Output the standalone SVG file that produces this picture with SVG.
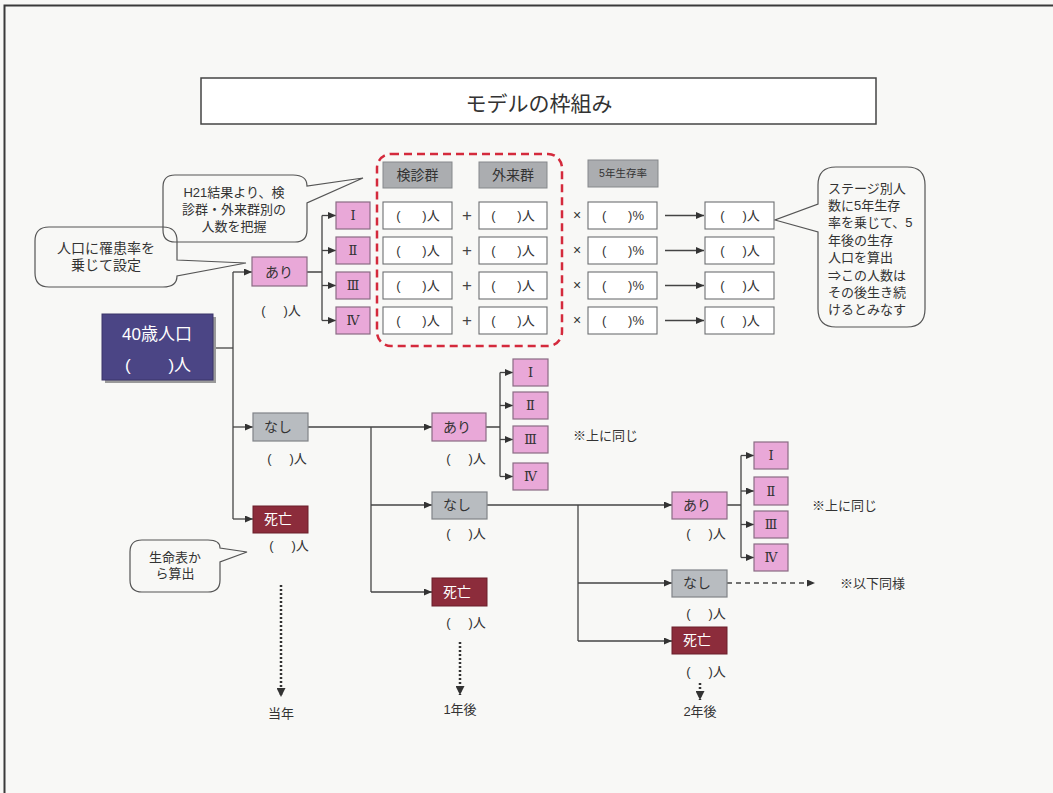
<svg xmlns="http://www.w3.org/2000/svg" width="1053" height="793" viewBox="0 0 1053 793">
<style>
text{font-family:"Liberation Sans","Noto Sans CJK JP",sans-serif;fill:#333;}
.t13{font-size:13px;}
.t14{font-size:14px;}
.c{text-anchor:middle;}
.num{font-family:"DejaVu Serif","Liberation Serif","Noto Sans CJK JP",serif;font-size:13px;text-anchor:middle;fill:#333;}
.pink{fill:#e9a8d8;stroke:#8a6c84;stroke-width:1.2;}
.gray{fill:#b8bcc0;stroke:#808488;stroke-width:1.2;}
.dead{fill:#8c2c3b;stroke:#6a1f2b;stroke-width:1;}
.hdr{fill:#abadb0;stroke:#85888b;stroke-width:1;}
.cell{fill:#ffffff;stroke:#6d6f72;stroke-width:1.1;}
.ln{fill:none;stroke:#444;stroke-width:1.3;}
.bub{fill:none;stroke:#555;stroke-width:1.2;}
.wt{fill:#ffffff;}
.op{font-size:17px;text-anchor:middle;fill:#444;}
</style>
<defs>
<marker id="ah" markerWidth="8" markerHeight="7" refX="8" refY="3.5" orient="auto" markerUnits="userSpaceOnUse"><path d="M0,0 L8,3.5 L0,7 Z" fill="#333"/></marker>
<marker id="ahb" markerWidth="10" markerHeight="9" refX="9" refY="4.5" orient="auto" markerUnits="userSpaceOnUse"><path d="M0,0 L9,4.5 L0,9 Z" fill="#333"/></marker>
</defs>
<rect x="0" y="0" width="1053" height="793" fill="#f8f8f6"/>
<rect x="4.5" y="5.5" width="1070" height="800" fill="none" stroke="#3a3a3a" stroke-width="2"/>
<g id="title">
<rect x="201" y="78" width="675" height="46" fill="#ffffff" stroke="#444" stroke-width="1.5"/>
<text x="539" y="111" class="c" style="font-size:21px">モデルの枠組み</text>
</g>
<g id="connectors">
<path class="ln" d="M213,348 H233"/>
<path class="ln" d="M233,272 V519"/>
<path class="ln" d="M233,272 H252" marker-end="url(#ah)"/>
<path class="ln" d="M233,427 H253" marker-end="url(#ah)"/>
<path class="ln" d="M233,519 H253" marker-end="url(#ah)"/>
<path class="ln" d="M307,272 H322 M322,215.5 V320.5"/>
<path class="ln" d="M322,215.5 H336" marker-end="url(#ah)"/>
<path class="ln" d="M322,250.5 H336" marker-end="url(#ah)"/>
<path class="ln" d="M322,285.5 H336" marker-end="url(#ah)"/>
<path class="ln" d="M322,320.5 H336" marker-end="url(#ah)"/>
<path class="ln" d="M665,215.5 H704" marker-end="url(#ah)"/>
<path class="ln" d="M665,250.5 H704" marker-end="url(#ah)"/>
<path class="ln" d="M665,285.5 H704" marker-end="url(#ah)"/>
<path class="ln" d="M665,320.5 H704" marker-end="url(#ah)"/>
<path class="ln" d="M308,427 H432" marker-end="url(#ah)"/>
<path class="ln" d="M371,427 V592"/>
<path class="ln" d="M371,505 H432" marker-end="url(#ah)"/>
<path class="ln" d="M371,592 H432" marker-end="url(#ah)"/>
<path class="ln" d="M486,427 H500 M500,372.5 V476.5"/>
<path class="ln" d="M500,372.5 H513" marker-end="url(#ah)"/>
<path class="ln" d="M500,405.5 H513" marker-end="url(#ah)"/>
<path class="ln" d="M500,439.5 H513" marker-end="url(#ah)"/>
<path class="ln" d="M500,476.5 H513" marker-end="url(#ah)"/>
<path class="ln" d="M487,505 H672" marker-end="url(#ah)"/>
<path class="ln" d="M578,505 V641"/>
<path class="ln" d="M578,583 H672" marker-end="url(#ah)"/>
<path class="ln" d="M578,641 H672" marker-end="url(#ah)"/>
<path class="ln" d="M727,505 H741 M741,455.5 V557.5"/>
<path class="ln" d="M741,455.5 H754" marker-end="url(#ah)"/>
<path class="ln" d="M741,491 H754" marker-end="url(#ah)"/>
<path class="ln" d="M741,524.5 H754" marker-end="url(#ah)"/>
<path class="ln" d="M741,557.5 H754" marker-end="url(#ah)"/>
<path class="ln" d="M727,583 H815" stroke-dasharray="5,4" marker-end="url(#ah)"/>
<path d="M281,585 V697" fill="none" stroke="#333" stroke-width="2.5" stroke-dasharray="2,2" marker-end="url(#ahb)"/>
<path d="M460,642 V695" fill="none" stroke="#333" stroke-width="2.5" stroke-dasharray="2,2" marker-end="url(#ahb)"/>
<path d="M700,683 V700" fill="none" stroke="#333" stroke-width="2.5" stroke-dasharray="2,2" marker-end="url(#ahb)"/>
</g>
<g id="callout-h21">
<path class="bub" d="M175,175 H293 Q307,175 307,186 L363,178 L307,203 V230 Q307,242 295,242 H175 Q163,242 163,230 V187 Q163,175 175,175 Z"/>
<text class="t13 c" x="234" y="197">H21結果より、検</text>
<text class="t13 c" x="234" y="214">診群・外来群別の</text>
<text class="t13 c" x="234" y="231">人数を把握</text>
</g>
<g id="callout-rate">
<path class="bub" d="M49,227 H163 Q177,227 177,241 V260 L246,263 L177,276 Q177,287 163,287 H49 Q35,287 35,273 V241 Q35,227 49,227 Z"/>
<text class="t14 c" x="106" y="253">人口に罹患率を</text>
<text class="t14 c" x="106" y="270">乗じて設定</text>
</g>
<g id="callout-survival">
<path class="bub" d="M836,167 H907 Q925,167 925,185 V309 Q925,327 907,327 H836 Q818,327 818,309 V232 L775,220 L818,204 V185 Q818,167 836,167 Z"/>
<text class="t13" x="828" y="193">ステージ別人</text>
<text class="t13" x="828" y="210">数に5年生存</text>
<text class="t13" x="828" y="227">率を乗じて、5</text>
<text class="t13" x="828" y="245">年後の生存</text>
<text class="t13" x="828" y="262">人口を算出</text>
<text class="t13" x="828" y="280">⇒この人数は</text>
<text class="t13" x="828" y="297">その後生き続</text>
<text class="t13" x="828" y="314">けるとみなす</text>
</g>
<g id="callout-lifetable">
<path class="bub" d="M142,540 H208 Q220,540 220,548 L247,552 L220,562 V580 Q220,592 208,592 H142 Q130,592 130,580 V552 Q130,540 142,540 Z"/>
<text class="t13 c" x="175" y="562">生命表か</text>
<text class="t13 c" x="175" y="578">ら算出</text>
</g>
<g id="pop40">
<rect x="105" y="317" width="111" height="66" fill="#9a9a9a"/>
<rect x="102" y="314" width="111" height="66" fill="#4b4585" stroke="#3a3568" stroke-width="1"/>
<text class="wt c" x="157" y="340" style="font-size:17px">40歳人口</text>
<text class="wt c" x="158" y="371" style="font-size:17px">(&#160;&#160;&#160;&#160;&#160;&#160;&#160;&#160;)人</text>
</g>
<g id="ari1">
<rect class="pink" x="252" y="257" width="55" height="29"/>
<text class="t14" x="265" y="277">あり</text>
<text class="t13 c" x="281" y="315">(&#160;&#160;&#160;&#160;&#160;)人</text>
</g>
<g id="stages1">
<rect class="pink" x="336" y="202" width="34" height="27"/><text class="num" x="353" y="220">Ⅰ</text>
<rect class="pink" x="336" y="237" width="34" height="27"/><text class="num" x="353" y="255">Ⅱ</text>
<rect class="pink" x="336" y="272" width="34" height="27"/><text class="num" x="353" y="290">Ⅲ</text>
<rect class="pink" x="336" y="307" width="34" height="27"/><text class="num" x="353" y="325">Ⅳ</text>
</g>
<g id="table">
<rect x="377" y="154" width="185" height="192" rx="14" fill="none" stroke="#d42a3c" stroke-width="2.5" stroke-dasharray="8,5"/>
<rect class="hdr" x="383" y="162" width="69" height="26"/><text class="t14 c" x="417.5" y="180">検診群</text>
<rect class="hdr" x="479" y="162" width="68" height="26"/><text class="t14 c" x="513" y="180">外来群</text>
<rect class="hdr" x="588" y="160" width="70" height="27"/><text class="c" x="623" y="177" style="font-size:10.5px">5年生存率</text>
<g id="row1">
<rect class="cell" x="383" y="202" width="69" height="27"/><text class="t13 c" x="418" y="220">(&#160;&#160;&#160;&#160;&#160;&#160;)人</text>
<text class="op" x="467" y="221">+</text>
<rect class="cell" x="479" y="202" width="68" height="27"/><text class="t13 c" x="513" y="220">(&#160;&#160;&#160;&#160;&#160;&#160;)人</text>
<text class="t14 c" x="577" y="220">×</text>
<rect class="cell" x="588" y="202" width="69" height="27"/><text class="t13 c" x="623" y="220">(&#160;&#160;&#160;&#160;&#160;&#160;)%</text>
<rect class="cell" x="705" y="202" width="69" height="27"/><text class="t13 c" x="740" y="220">(&#160;&#160;&#160;&#160;&#160;)人</text>
</g>
<g id="row2">
<rect class="cell" x="383" y="237" width="69" height="27"/><text class="t13 c" x="418" y="255">(&#160;&#160;&#160;&#160;&#160;&#160;)人</text>
<text class="op" x="467" y="256">+</text>
<rect class="cell" x="479" y="237" width="68" height="27"/><text class="t13 c" x="513" y="255">(&#160;&#160;&#160;&#160;&#160;&#160;)人</text>
<text class="t14 c" x="577" y="255">×</text>
<rect class="cell" x="588" y="237" width="69" height="27"/><text class="t13 c" x="623" y="255">(&#160;&#160;&#160;&#160;&#160;&#160;)%</text>
<rect class="cell" x="705" y="237" width="69" height="27"/><text class="t13 c" x="740" y="255">(&#160;&#160;&#160;&#160;&#160;)人</text>
</g>
<g id="row3">
<rect class="cell" x="383" y="272" width="69" height="27"/><text class="t13 c" x="418" y="290">(&#160;&#160;&#160;&#160;&#160;&#160;)人</text>
<text class="op" x="467" y="291">+</text>
<rect class="cell" x="479" y="272" width="68" height="27"/><text class="t13 c" x="513" y="290">(&#160;&#160;&#160;&#160;&#160;&#160;)人</text>
<text class="t14 c" x="577" y="290">×</text>
<rect class="cell" x="588" y="272" width="69" height="27"/><text class="t13 c" x="623" y="290">(&#160;&#160;&#160;&#160;&#160;&#160;)%</text>
<rect class="cell" x="705" y="272" width="69" height="27"/><text class="t13 c" x="740" y="290">(&#160;&#160;&#160;&#160;&#160;)人</text>
</g>
<g id="row4">
<rect class="cell" x="383" y="307" width="69" height="27"/><text class="t13 c" x="418" y="325">(&#160;&#160;&#160;&#160;&#160;&#160;)人</text>
<text class="op" x="467" y="326">+</text>
<rect class="cell" x="479" y="307" width="68" height="27"/><text class="t13 c" x="513" y="325">(&#160;&#160;&#160;&#160;&#160;&#160;)人</text>
<text class="t14 c" x="577" y="325">×</text>
<rect class="cell" x="588" y="307" width="69" height="27"/><text class="t13 c" x="623" y="325">(&#160;&#160;&#160;&#160;&#160;&#160;)%</text>
<rect class="cell" x="705" y="307" width="69" height="27"/><text class="t13 c" x="740" y="325">(&#160;&#160;&#160;&#160;&#160;)人</text>
</g>
</g>
<g id="nashi1">
<rect class="gray" x="253" y="413" width="55" height="28"/>
<text class="t14" x="264" y="432">なし</text>
<text class="t13 c" x="287" y="463">(&#160;&#160;&#160;&#160;&#160;)人</text>
</g>
<g id="shibou1">
<rect class="dead" x="253" y="506" width="55" height="27"/>
<text class="t14 wt" x="264" y="524">死亡</text>
<text class="t13 c" x="289" y="550">(&#160;&#160;&#160;&#160;&#160;)人</text>
</g>
<g id="ari2">
<rect class="pink" x="432" y="413" width="54" height="28"/>
<text class="t14" x="443" y="432">あり</text>
<text class="t13 c" x="466" y="463">(&#160;&#160;&#160;&#160;&#160;)人</text>
</g>
<g id="stages2">
<rect class="pink" x="513" y="359" width="35" height="27"/><text class="num" x="530.5" y="377">Ⅰ</text>
<rect class="pink" x="513" y="392" width="35" height="27"/><text class="num" x="530.5" y="410">Ⅱ</text>
<rect class="pink" x="513" y="426" width="35" height="27"/><text class="num" x="530.5" y="444">Ⅲ</text>
<rect class="pink" x="513" y="463" width="35" height="27"/><text class="num" x="530.5" y="481">Ⅳ</text>
<text class="t13" x="573" y="440">※上に同じ</text>
</g>
<g id="nashi2">
<rect class="gray" x="432" y="492" width="55" height="27"/>
<text class="t14" x="443" y="510">なし</text>
<text class="t13 c" x="466" y="538">(&#160;&#160;&#160;&#160;&#160;)人</text>
</g>
<g id="shibou2">
<rect class="dead" x="432" y="578" width="55" height="28"/>
<text class="t14 wt" x="443" y="597">死亡</text>
<text class="t13 c" x="466" y="627">(&#160;&#160;&#160;&#160;&#160;)人</text>
</g>
<g id="ari3">
<rect class="pink" x="672" y="492" width="55" height="27"/>
<text class="t14" x="683" y="510">あり</text>
<text class="t13 c" x="706" y="538">(&#160;&#160;&#160;&#160;&#160;)人</text>
</g>
<g id="stages3">
<rect class="pink" x="754" y="442" width="34" height="27"/><text class="num" x="771" y="460">Ⅰ</text>
<rect class="pink" x="754" y="477" width="34" height="28"/><text class="num" x="771" y="496">Ⅱ</text>
<rect class="pink" x="754" y="511" width="34" height="27"/><text class="num" x="771" y="529">Ⅲ</text>
<rect class="pink" x="754" y="544" width="34" height="27"/><text class="num" x="771" y="562">Ⅳ</text>
<text class="t13" x="812" y="510">※上に同じ</text>
</g>
<g id="nashi3">
<rect class="gray" x="672" y="570" width="55" height="27"/>
<text class="t14" x="683" y="588">なし</text>
<text class="t13 c" x="706" y="618">(&#160;&#160;&#160;&#160;&#160;)人</text>
<text class="t13" x="840" y="588">※以下同様</text>
</g>
<g id="shibou3">
<rect class="dead" x="672" y="627" width="55" height="27"/>
<text class="t14 wt" x="683" y="645">死亡</text>
<text class="t13 c" x="706" y="676">(&#160;&#160;&#160;&#160;&#160;)人</text>
</g>
<g id="years">
<text class="t13 c" x="281" y="718">当年</text>
<text class="t13 c" x="460" y="714">1年後</text>
<text class="t13 c" x="700" y="716">2年後</text>
</g>
</svg>
